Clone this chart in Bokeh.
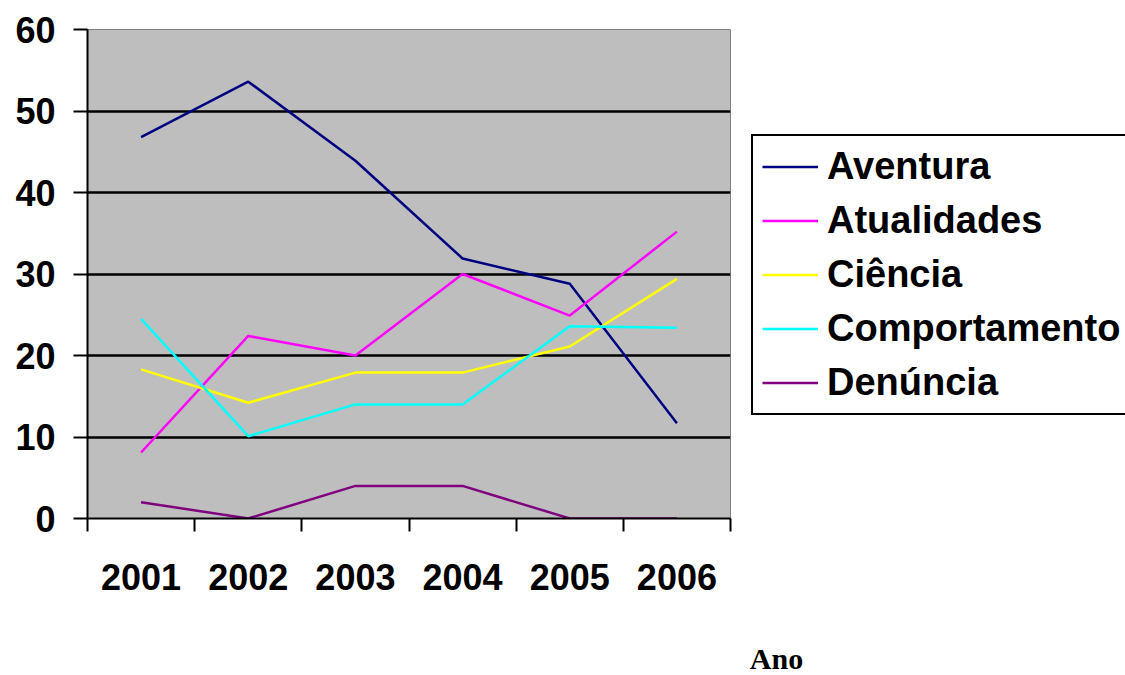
from bokeh.plotting import figure
from bokeh.models import FixedTicker, Legend, LegendItem, Label, Range1d
from bokeh.layouts import row, column
from bokeh.embed import file_html
from bokeh.resources import INLINE

years = ["2001", "2002", "2003", "2004", "2005", "2006"]
aventura = [46.8, 53.6, 43.9, 31.9, 28.8, 11.7]
atualidades = [8.1, 22.4, 20.0, 30.0, 24.9, 35.2]
ciencia = [18.3, 14.2, 17.9, 17.9, 21.1, 29.4]
comportamento = [24.5, 10.1, 14.0, 14.0, 23.6, 23.4]
denuncia = [2, 0, 4, 4, 0, 0]

series_names = ["Aventura", "Atualidades", "Ciência", "Comportamento", "Denúncia"]
series_values = [aventura, atualidades, ciencia, comportamento, denuncia]
series_colors = ["#000080", "#FF00FF", "#FFFF00", "#00FFFF", "#800080"]
y_ticks = [0, 10, 20, 30, 40, 50, 60]
x_title = "Ano"

FONT = "Liberation Sans"

# ---- main chart ----
p = figure(width=745, height=675, output_backend="svg", toolbar_location=None,
           x_range=Range1d(0, len(years)), y_range=Range1d(0, 60),
           min_border_left=87, min_border_right=15, min_border_top=29, min_border_bottom=157)
p.background_fill_color = "#BEBEBE"
p.border_fill_color = "white"
p.outline_line_color = "#808080"
p.outline_line_width = 1

xs = [i + 0.5 for i in range(len(years))]

for name, vals, col in zip(series_names, series_values, series_colors):
    p.line(xs, vals, line_color=col, line_width=2.5)

p.xgrid.visible = False
p.ygrid.ticker = FixedTicker(ticks=y_ticks)
p.ygrid.grid_line_color = "black"
p.ygrid.grid_line_width = 2.5

ya = p.yaxis[0]
ya.ticker = FixedTicker(ticks=y_ticks)
ya.axis_line_color = "black"
ya.axis_line_width = 2
ya.major_tick_out = 14
ya.major_tick_in = 0
ya.major_tick_line_width = 2
ya.minor_tick_line_color = None
ya.major_label_text_font = FONT
ya.major_label_text_font_style = "bold"
ya.major_label_text_font_size = "36px"
ya.major_label_text_color = "black"
ya.major_label_standoff = 18

xa = p.xaxis[0]
xa.ticker = FixedTicker(ticks=xs, minor_ticks=list(range(len(years) + 1)))
xa.major_label_overrides = {x: y for x, y in zip(xs, years)}
xa.axis_line_color = "black"
xa.axis_line_width = 2
xa.major_tick_out = 0
xa.major_tick_in = 0
xa.minor_tick_out = 13
xa.minor_tick_in = 0
xa.minor_tick_line_width = 2
xa.minor_tick_line_color = "black"
xa.major_label_text_font = FONT
xa.major_label_text_font_style = "bold"
xa.major_label_text_font_size = "36px"
xa.major_label_text_color = "black"
xa.major_label_standoff = 32

# ---- legend panel (same series, drawn outside its visible range) ----
q = figure(width=380, height=675, output_backend="svg", toolbar_location=None,
           x_range=Range1d(100, 101), y_range=Range1d(0, 60),
           x_axis_location=None, y_axis_location=None, min_border=0)
q.extra_x_ranges = {"px": Range1d(0, 380)}
q.extra_y_ranges = {"px": Range1d(0, 675)}
q.grid.visible = False
q.outline_line_color = None
q.background_fill_color = "white"
q.border_fill_color = "white"

items = []
for name, vals, col in zip(series_names, series_values, series_colors):
    r = q.line(xs, vals, line_color=col, line_width=2.5)
    items.append(LegendItem(label=name, renderers=[r]))

legend = Legend(items=items, location=(6, 260), orientation="vertical")
legend.label_text_font = FONT
legend.label_text_font_style = "bold"
legend.label_text_font_size = "38px"
legend.label_text_color = "black"
legend.label_height = 43
legend.glyph_height = 43
legend.glyph_width = 56
legend.label_standoff = 9
legend.spacing = 11
legend.padding = 9
legend.margin = 0
legend.border_line_color = "black"
legend.border_line_width = 2
legend.border_line_alpha = 1.0
legend.background_fill_color = "white"
legend.background_fill_alpha = 1.0
q.add_layout(legend, "center")

lab = Label(x=31, y=17, x_range_name="px", y_range_name="px", text=x_title,
            text_font="Liberation Serif", text_font_style="bold", text_font_size="30px",
            text_color="black", text_align="center", text_baseline="alphabetic")
q.add_layout(lab)

layout = row(p, column(q, spacing=0), spacing=0)
open("out.html", "w").write(file_html(layout, INLINE))
